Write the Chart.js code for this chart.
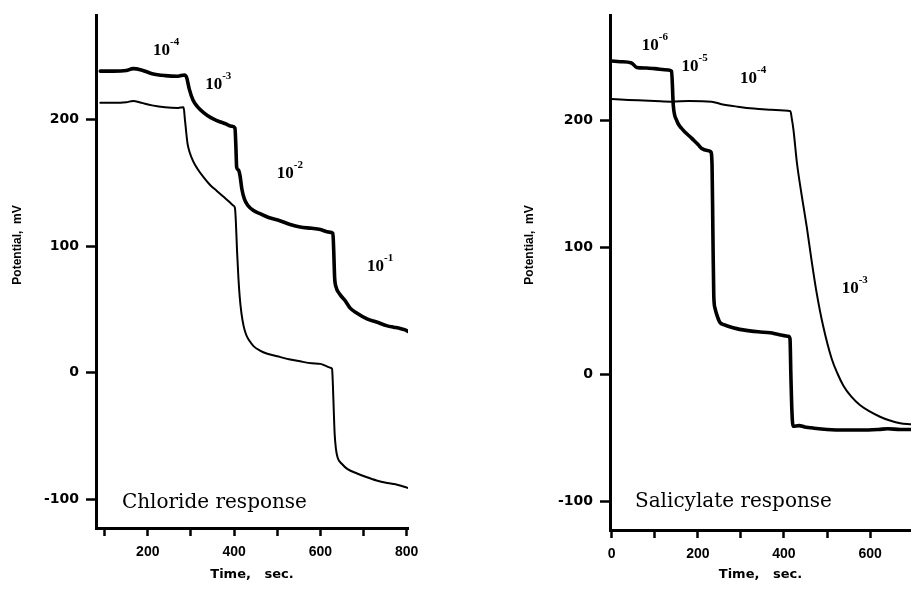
<!DOCTYPE html>
<html><head><meta charset="utf-8">
<script src="https://cdn.jsdelivr.net/npm/chart.js@4/dist/chart.umd.min.js"></script>
<style>
html,body{margin:0;padding:0;background:#fff;overflow:hidden;}
#l{position:absolute;left:0;top:0;width:455px;height:590px;}
#r{position:absolute;left:455px;top:0;width:456px;height:590px;}
</style></head>
<body>
<div id="l"><canvas id="cl"></canvas></div>
<div id="r"><canvas id="cr"></canvas></div>
<script>
// ---------- data ----------
const potentialTicks = [-100, 0, 100, 200];

// Chloride panel
const chlorideXTicks  = [100, 200, 300, 400, 500, 600, 700, 800];
const chlorideXLabels = [200, 400, 600, 800];
const chlorideTimeUpper = [90,120,150,166,185,210,240,270,285,290,296,305,315,330,345,360,380,395,402,404,406,410,414,418,424,432,445,460,480,506,530,553,580,600,620,629,631,633,636,645,657,669,685,708,730,755,770,785,795,804];
const chloridePotUpper  = [238,238,238.5,240,239,236,234.5,234,235,233,224,215,210,205,201.5,199,196.5,194.5,193,180,162,160,155,145,137,132,128,125.5,122.5,120,117,115,114,113,111,110,95,75,68,62,57,51,47,42.5,40,37,36,35,34,32.5];
const chlorideTimeLower = [90,120,150,166,185,210,240,270,283,286,289,292,297,305,315,330,345,360,375,390,398,402,404,407,410,413,417,422,428,436,445,460,477,500,530,553,580,600,615,623,627,629,631,633,636,640,650,663,685,708,730,755,780,804];
const chloridePotLower  = [213,213,213.5,214.5,213,211,209.5,209,209.5,200,190,181,174,167,161,154,148,143.5,139,134.5,132,130,120,95,75,60,47,37,30,25,21,17.5,15,13,10.5,9,7.5,7,5,4,3,-10,-30,-48,-60,-67,-72,-76,-79.5,-82.5,-85,-87,-88.5,-91];

// Salicylate panel
const salicylateXTicks  = [0, 100, 200, 300, 400, 500, 600];
const salicylateXLabels = [0, 200, 400, 600];
const salicylateTimeA = [0,20,46,58,80,100,131,139,143,151,162,186,201,209,222,230,233,235,237,240,244,251,262,274,290,305,340,368,385,400,410,414,416,418,421,435,448,470,500,540,580,620,641,670,695];
const salicylatePotA  = [247,246.5,245.5,242,241.5,241,240,239,212,200,194,186,181,178,176.5,175.5,165,110,62,52,47,41,39,37.5,36,35,33.5,32.7,31.5,30.5,30,28,0,-25,-41,-40.5,-41.5,-42.5,-43.5,-44,-44,-43.5,-43,-43.5,-43.5];
const salicylateTimeB = [0,30,61,100,139,180,232,255,293,330,371,400,415,418,422,430,441,453,464,476,491,511,525,538,556,577,600,623,646,670,695];
const salicylatePotB  = [217,216.5,216,215.5,215,215.5,215,213,211,209.5,208.6,208,207.5,202,193,167,141.5,116,90,64,38,12,0,-9,-17.5,-24.5,-29.5,-33.5,-36.5,-38.7,-39.5];

// annotation texts
const chlorideNotes   = [['10','-4',212,251],['10','-3',333,224],['10','-2',499,154],['10','-1',708,80]];
const salicylateNotes = [['10','-6',70,256],['10','-5',162,239],['10','-4',298,230],['10','-3',534,64]];
const chlorideCaption   = ['Chloride response', 140, -106.5];
const salicylateCaption = ['Salicylate response', 54, -105];
const yTitle = 'Potential,  mV';
const xTitle = 'Time,   sec.';

// ---------- drawing ----------
const notePlugin = {
  id: 'notes',
  afterDraw(chart, args, o) {
    const {ctx} = chart;
    const xs = chart.scales.x, ys = chart.scales.y;
    ctx.save();
    ctx.fillStyle = '#000';
    // y axis title
    ctx.save();
    ctx.translate(o.yTitleX, o.yTitleY);
    ctx.rotate(-Math.PI / 2);
    ctx.font = 'bold 12px "Liberation Sans"';
    ctx.textAlign = 'center';
    ctx.textBaseline = 'middle';
    ctx.fillText(yTitle, 0, 0);
    ctx.restore();
    // concentration labels
    ctx.textAlign = 'left';
    ctx.textBaseline = 'alphabetic';
    o.notes.forEach(([b, e, t, p]) => {
      const px = xs.getPixelForValue(t), py = ys.getPixelForValue(p);
      ctx.font = 'bold 17px "Liberation Serif"';
      ctx.fillText(b, px, py);
      const w = ctx.measureText(b).width;
      ctx.font = 'bold 11px "Liberation Serif"';
      ctx.fillText(e, px + w, py - 10);
    });
    // caption
    const [c, ct, cp] = o.caption;
    ctx.font = '20px "DejaVu Serif"';
    ctx.fillText(c, xs.getPixelForValue(ct), ys.getPixelForValue(cp));
    ctx.restore();
  }
};

function build(id, p) {
  return new Chart(document.getElementById(id), {
    type: 'line',
    data: {
      datasets: p.series.map(s => ({
        data: s.t.map((t, i) => ({x: t, y: s.v[i]})),
        borderColor: '#000',
        borderWidth: s.w,
        pointRadius: 0,
        fill: false,
        cubicInterpolationMode: 'monotone',
        borderJoinStyle: 'round',
        borderCapStyle: 'round'
      }))
    },
    options: {
      responsive: true,
      maintainAspectRatio: false,
      animation: false,
      events: [],
      layout: {padding: {left: 0, right: p.padRight, top: p.padTop, bottom: 0}},
      plugins: {
        legend: {display: false},
        tooltip: {enabled: false},
        notes: {notes: p.notes, caption: p.caption, yTitleX: p.yTitleX, yTitleY: p.yTitleY}
      },
      scales: {
        x: {
          type: 'linear', min: p.xMin, max: p.xMax,
          afterBuildTicks: s => { s.ticks = p.xTicks.map(v => ({value: v})); },
          afterFit: s => { s.height = p.xHeight; },
          grid: {display: true, drawOnChartArea: false, drawTicks: true, tickLength: 8, tickWidth: 2.5, tickColor: '#000'},
          border: {display: true, color: '#000', width: 3},
          ticks: {
            autoSkip: false, maxRotation: 0, padding: 8, color: '#000',
            font: {family: 'Liberation Sans', weight: 'bold', size: 14},
            callback: v => p.xLabels.includes(v) ? String(v) : ''
          },
          title: {display: true, text: xTitle, color: '#000',
                  font: {family: 'DejaVu Sans', weight: 'bold', size: 13},
                  padding: {top: 0, bottom: 8}}
        },
        y: {
          type: 'linear', min: p.yMin, max: p.yMax,
          afterBuildTicks: s => { s.ticks = potentialTicks.map(v => ({value: v})); },
          afterFit: s => { s.width = p.yWidth; },
          grid: {display: true, drawOnChartArea: false, drawTicks: true, tickLength: 10, tickWidth: 2.5, tickColor: '#000'},
          border: {display: true, color: '#000', width: 3},
          ticks: {
            padding: 7, color: '#000',
            font: {family: 'DejaVu Sans', weight: 'bold', size: 14},
            callback: v => String(v)
          }
        }
      }
    },
    plugins: [notePlugin]
  });
}

build('cl', {
  series: [
    {t: chlorideTimeUpper, v: chloridePotUpper, w: 3.6},
    {t: chlorideTimeLower, v: chloridePotLower, w: 2}
  ],
  xMin: 80, xMax: 803, yMin: -122.5, yMax: 282,
  xTicks: chlorideXTicks, xLabels: chlorideXLabels,
  padRight: 47, padTop: 7, xHeight: 62, yWidth: 96,
  notes: chlorideNotes, caption: chlorideCaption,
  yTitleX: 18, yTitleY: 245
});

build('cr', {
  series: [
    {t: salicylateTimeA, v: salicylatePotA, w: 3.6},
    {t: salicylateTimeB, v: salicylatePotB, w: 2}
  ],
  xMin: -4, xMax: 695, yMin: -122.8, yMax: 283,
  xTicks: salicylateXTicks, xLabels: salicylateXLabels,
  padRight: 0, padTop: 9, xHeight: 60, yWidth: 155,
  notes: salicylateNotes, caption: salicylateCaption,
  yTitleX: 75, yTitleY: 245
});
</script>
</body></html>
